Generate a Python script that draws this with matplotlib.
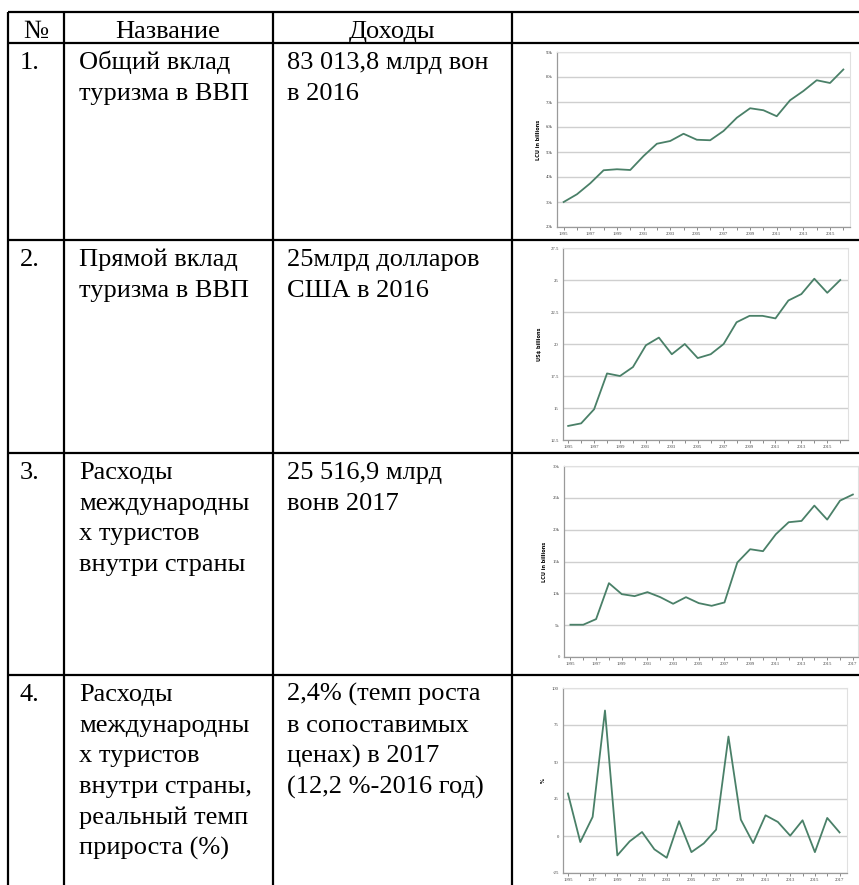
import numpy as np
import matplotlib.pyplot as plt

plt.rcParams['font.family'] = ['Liberation Serif', 'DejaVu Serif']

# table text
header = ['№', 'Название', 'Доходы']
nums = ['1.', '2.', '3.', '4.']
names = [
    ['Общий вклад', 'туризма в ВВП'],
    ['Прямой вклад', 'туризма в ВВП'],
    ['Расходы', 'международны', 'х туристов', 'внутри страны'],
    ['Расходы', 'международны', 'х туристов', 'внутри страны,', 'реальный темп', 'прироста (%)'],
]
incomes = [
    ['83 013,8 млрд вон', 'в 2016'],
    ['25млрд долларов', 'США в 2016'],
    ['25 516,9 млрд', 'вонв 2017'],
    ['2,4% (темп роста', 'в сопоставимых', 'ценах) в 2017', '(12,2 %-2016 год)'],
]

# chart data
years1 = list(range(1995, 2017))
gdp_total = [30.0, 33.1, 37.5, 42.7, 43.1, 42.8, 48.4, 53.3, 54.4, 57.3, 54.9,
             54.7, 58.4, 63.7, 67.5, 66.7, 64.3, 70.7, 74.4, 78.7, 77.6, 83.0]
years2 = list(range(1995, 2017))
gdp_direct = [13.6, 13.8, 14.9, 17.7, 17.5, 18.2, 19.9, 20.5, 19.2, 20.0, 18.9,
              19.2, 20.0, 21.7, 22.2, 22.2, 22.0, 23.4, 23.9, 25.1, 24.0, 25.0]
years3 = list(range(1995, 2018))
visitor_spend = [5.07, 5.07, 5.95, 11.6, 9.87, 9.56, 10.19, 9.4, 8.36, 9.4, 8.46, 8.04,
                 8.57, 14.84, 16.93, 16.62, 19.28, 21.17, 21.37, 23.78, 21.58, 24.56, 25.52]
years4 = list(range(1995, 2018))
spend_growth = [28.7, -4.1, 12.9, 84.8, -13.1, -3.6, 2.7, -9.0, -14.7, 10.0, -10.9, -5.0,
                4.3, 67.2, 11.1, -4.8, 14.0, 9.5, 0.2, 10.6, -10.9, 12.2, 2.4]

W, H = 859, 885
fig = plt.figure(figsize=(W / 100, H / 100), dpi=100)

tab = fig.add_axes([0, 0, 1, 1])
tab.set_xlim(0, W)
tab.set_ylim(H, 0)
tab.axis('off')

# table grid
lw = 1.6
for y in [12, 43, 240, 453, 675]:
    tab.plot([8, W], [y, y], color='black', lw=lw, solid_capstyle='butt')
for x in [8, 64, 273, 512]:
    tab.plot([x, x], [12, H], color='black', lw=lw, solid_capstyle='butt')

fs = 19
tab.text(36, 38, header[0], fontsize=fs, ha='center', va='baseline')
tab.text(168, 38, header[1], fontsize=fs, ha='center', va='baseline')
tab.text(392, 38, header[2], fontsize=fs, ha='center', va='baseline')

row_tops = [43, 240, 453, 675]
step = 30.7
for i, top in enumerate(row_tops):
    base = top + 26
    tab.text(20, base, nums[i], fontsize=fs, va='baseline')
    for j, line in enumerate(names[i]):
        tab.text(79, base + j * step, line, fontsize=fs, va='baseline')
    for j, line in enumerate(incomes[i]):
        tab.text(287, base + j * step, line, fontsize=fs, va='baseline')


def small_chart(box, years, vals, xlim, ylim, yticks, ylabels, ylabel, label_x):
    l, r, t, b = box
    ax = fig.add_axes([l / W, 1 - b / H, (r - l) / W, (b - t) / H])
    ax.plot(years, vals, color='#4a8068', lw=1.3)
    ax.set_xlim(*xlim)
    ax.set_ylim(*ylim)
    ax.set_yticks(yticks)
    ax.set_yticklabels(ylabels)
    ax.set_xticks(years)
    ax.set_xticklabels([str(y) if (y - 1995) % 2 == 0 else '' for y in years])
    ax.grid(axis='y', color='#cfcfcf', lw=1.0)
    ax.set_axisbelow(True)
    for s in ['top', 'right']:
        ax.spines[s].set_color('#e0e0e0')
        ax.spines[s].set_linewidth(0.8)
    for s in ['left', 'bottom']:
        ax.spines[s].set_color('#9a9a9a')
        ax.spines[s].set_linewidth(0.9)
    ax.tick_params(axis='x', length=2, width=0.6, color='#777777', labelsize=3.4,
                   labelcolor='#444444', pad=1.5)
    ax.tick_params(axis='y', length=0, labelsize=3.4, labelcolor='#444444', pad=3)
    tab.text(label_x, (t + b) / 2, ylabel, fontsize=3.6, fontweight='bold', rotation=90,
             ha='center', va='center', family=['DejaVu Sans'])
    return ax


small_chart((557, 850, 52, 227), years1, gdp_total, (1994.5, 2016.5), (20, 90),
            list(range(20, 91, 10)), ['%dk' % v for v in range(20, 91, 10)],
            'LCU in billions', 538)
small_chart((563, 848, 248, 440), years2, gdp_direct, (1994.6, 2016.6), (12.5, 27.5),
            [12.5, 15, 17.5, 20, 22.5, 25, 27.5], ['12.5', '15', '17.5', '20', '22.5', '25', '27.5'],
            'US$ billions', 540)
small_chart((564, 858, 466, 657), years3, visitor_spend, (1994.5, 2017.4), (0, 30),
            list(range(0, 31, 5)), ['0', '5k', '10k', '15k', '20k', '25k', '30k'],
            'LCU in billions', 545)
small_chart((563, 847, 688, 873), years4, spend_growth, (1994.6, 2017.6), (-25, 100),
            [-25, 0, 25, 50, 75, 100], ['-25', '0', '25', '50', '75', '100'],
            '%', 543)

fig.savefig('out.png', dpi=100)
